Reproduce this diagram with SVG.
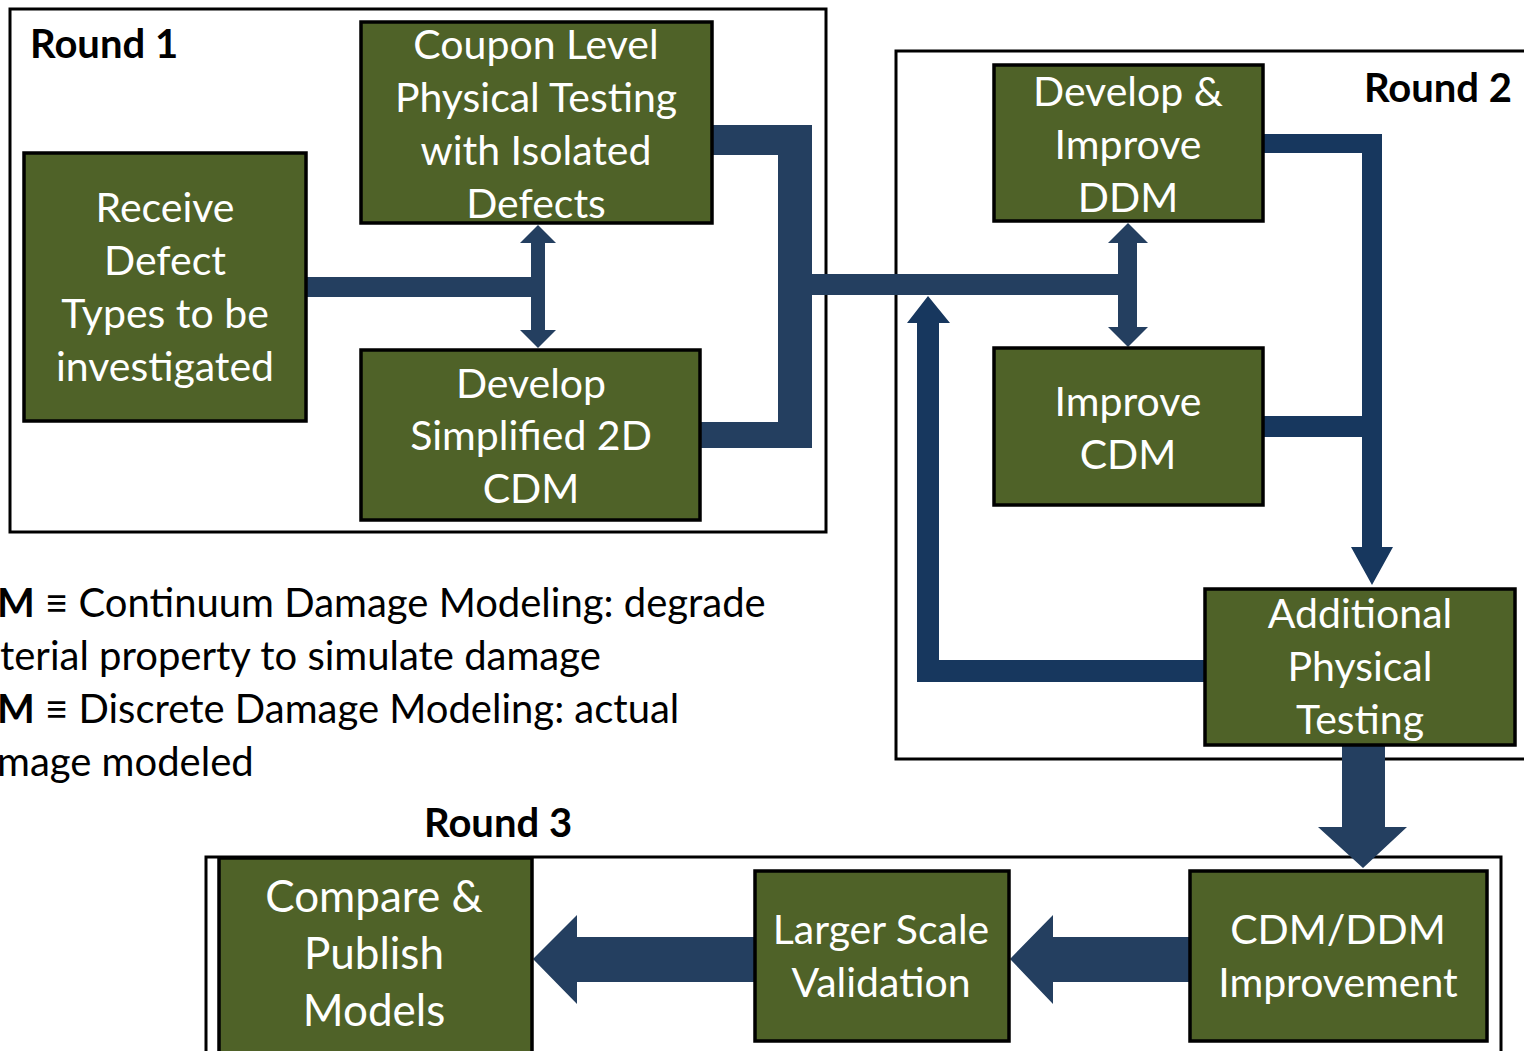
<svg xmlns="http://www.w3.org/2000/svg" width="1524" height="1051" viewBox="0 0 1524 1051">
<style>
.frame{fill:none;stroke:#000;stroke-width:3}
.node rect{fill:#4F6228;stroke:#000;stroke-width:3.5}
.node text{fill:#fff;font-family:Lato,"Open Sans",sans-serif;font-size:41px;text-anchor:middle}
.round{fill:#000;font-family:Lato,"Liberation Sans",sans-serif;font-size:40px;font-weight:bold}
.legend{fill:#000;font-family:Lato,"Liberation Sans",sans-serif;font-size:40px}
.c1{fill:#243F60}
.c2{fill:#17375E}
</style>
<rect width="1524" height="1051" fill="#fff"/>
<g id="frames">
<rect class="frame" x="10" y="9" width="816" height="523"/>
<rect class="frame" x="896" y="51" width="640" height="708"/>
<rect class="frame" x="206" y="857" width="1295" height="210"/>
</g>
<g id="connectors">
<rect class="c1" x="306" y="277" width="226" height="20"/>
<polygon class="c1" points="538,225 556,243 545,243 545,330 556,330 538,348 520,330 531,330 531,243 520,243"/>
<polygon class="c1" points="712,125 812,125 812,274 1118,274 1118,295 812,295 812,448 700,448 700,422 778,422 778,155 712,155"/>
<polygon class="c1" points="1128,223 1148,243 1137,243 1137,327 1148,327 1128,347 1108,327 1118,327 1118,243 1108,243"/>
<polygon class="c2" points="1263,134 1382,134 1382,547 1393,547 1372,585 1351,547 1362,547 1362,437 1263,437 1263,416 1362,416 1362,153 1263,153"/>
<polygon class="c2" points="1205,660 939,660 939,323 950,323 928,296 907,323 917,323 917,682 1205,682"/>
<polygon class="c1" points="1342,745 1385,745 1385,827 1407,827 1363,868 1318,827 1342,827"/>
<polygon class="c1" points="755,937 577,937 577,915 533,959 577,1004 577,982 755,982"/>
<polygon class="c1" points="1190,937 1053,937 1053,915 1010,959 1053,1004 1053,982 1190,982"/>
</g>
<g id="receive" class="node">
<rect x="24" y="153" width="282" height="268"/>
<text x="165" y="222">Receive</text>
<text x="165" y="275">Defect</text>
<text x="165" y="328">Types to be</text>
<text x="165" y="381">investigated</text>
</g>
<g id="coupon" class="node">
<rect x="361" y="22" width="351" height="201"/>
<text x="536" y="59">Coupon Level</text>
<text x="536" y="112">Physical Testing</text>
<text x="536" y="165">with Isolated</text>
<text x="536" y="218">Defects</text>
</g>
<g id="develop2d" class="node">
<rect x="361" y="350" width="339" height="170"/>
<text x="531" y="398">Develop</text>
<text x="531" y="450">Simplified 2D</text>
<text x="531" y="503">CDM</text>
</g>
<g id="ddm" class="node">
<rect x="994" y="65" width="269" height="156"/>
<text x="1128" y="106">Develop &amp;</text>
<text x="1128" y="159">Improve</text>
<text x="1128" y="212">DDM</text>
</g>
<g id="cdm" class="node">
<rect x="994" y="348" width="269" height="157"/>
<text x="1128" y="416">Improve</text>
<text x="1128" y="469">CDM</text>
</g>
<g id="additional" class="node">
<rect x="1205" y="589" width="310" height="156"/>
<text x="1360" y="628">Additional</text>
<text x="1360" y="681">Physical</text>
<text x="1360" y="734">Testing</text>
</g>
<g id="compare" class="node">
<rect x="219" y="858" width="313" height="210"/>
<text x="374" y="912" style="font-size:44px">Compare &amp;</text>
<text x="374" y="969" style="font-size:44px">Publish</text>
<text x="374" y="1026" style="font-size:44px">Models</text>
</g>
<g id="larger" class="node">
<rect x="755" y="871" width="254" height="170"/>
<text x="881" y="944">Larger Scale</text>
<text x="881" y="997">Validation</text>
</g>
<g id="improvement" class="node">
<rect x="1190" y="871" width="297" height="170"/>
<text x="1338" y="944">CDM/DDM</text>
<text x="1338" y="997">Improvement</text>
</g>
<g id="labels">
<text class="round" x="30" y="58">Round 1</text>
<text class="round" x="1512" y="102" text-anchor="end">Round 2</text>
<text class="round" x="424" y="837">Round 3</text>
<text class="legend" x="-3" y="617"><tspan font-weight="bold">M</tspan> ≡ Continuum Damage Modeling: degrade</text>
<text class="legend" x="0" y="670">terial property to simulate damage</text>
<text class="legend" x="-3" y="723"><tspan font-weight="bold">M</tspan> ≡ Discrete Damage Modeling: actual</text>
<text class="legend" x="-3" y="776">mage modeled</text>
</g>
</svg>
